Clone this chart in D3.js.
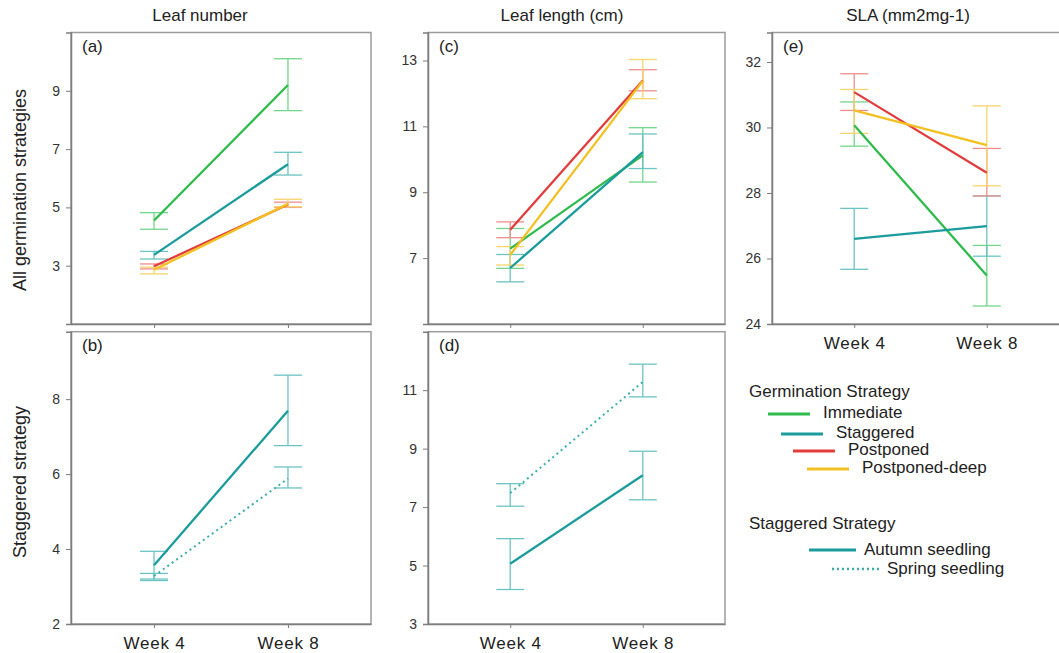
<!DOCTYPE html>
<html>
<head>
<meta charset="utf-8">
<script src="https://cdn.jsdelivr.net/npm/d3@7"></script>
<style>
  html, body { margin: 0; padding: 0; background: #fff; }
  svg { display: block; font-family: "Liberation Sans", Arial, sans-serif; }
</style>
</head>
<body>
<svg id="chart" width="1059" height="653"></svg>
<script>
// Time points and groups
const weeks = ["Week 4", "Week 8"];
const germStrategies = ["Immediate", "Staggered", "Postponed", "Postponed-deep"];
const staggeredGroups = ["Autumn seedling", "Spring seedling"];

// Leaf number, all germination strategies (rows follow germStrategies, columns follow weeks)
const leafNumMean = [[4.55, 9.20], [3.37, 6.48], [2.98, 5.10], [2.86, 5.12]];
const leafNumLow  = [[4.25, 8.32], [3.23, 6.11], [2.89, 5.00], [2.72, 5.02]];
const leafNumHigh = [[4.82, 10.10], [3.49, 6.89], [3.06, 5.18], [2.95, 5.28]];

// Leaf number, staggered strategy (rows follow staggeredGroups)
const leafNumStagMean = [[3.57, 7.69], [3.28, 5.88]];
const leafNumStagLow  = [[3.16, 6.76], [3.20, 5.63]];
const leafNumStagHigh = [[3.94, 8.64], [3.35, 6.19]];

// Leaf length (cm), all germination strategies
const leafLenMean = [[7.29, 10.12], [6.70, 10.22], [7.86, 12.39], [7.10, 12.38]];
const leafLenLow  = [[6.69, 9.31], [6.28, 9.72], [7.62, 12.08], [6.79, 11.84]];
const leafLenHigh = [[7.90, 10.96], [7.11, 10.77], [8.10, 12.72], [7.35, 13.03]];

// Leaf length (cm), staggered strategy
const leafLenStagMean = [[5.06, 8.09], [7.48, 11.28]];
const leafLenStagLow  = [[4.18, 7.25], [7.03, 10.77]];
const leafLenStagHigh = [[5.92, 8.91], [7.80, 11.89]];

// SLA (mm2mg-1), all germination strategies
const slaMean = [[30.07, 25.48], [26.60, 26.99], [31.08, 28.62], [30.52, 29.46]];
const slaLow  = [[29.43, 24.55], [25.67, 26.07], [30.52, 27.91], [29.82, 28.22]];
const slaHigh = [[30.78, 26.40], [27.53, 27.91], [31.64, 29.36], [31.16, 30.66]];

// Axis tick values per panel
const ticksA = [3, 5, 7, 9];
const ticksB = [2, 4, 6, 8];
const ticksC = [7, 9, 11, 13];
const ticksD = [3, 5, 7, 9, 11];
const ticksE = [24, 26, 28, 30, 32];

const colTitles = ["Leaf number", "Leaf length (cm)", "SLA (mm2mg-1)"];
const rowTitles = ["All germination strategies", "Staggered strategy"];

// Styling
const lineColor = { "Immediate": "#2fbb4c", "Staggered": "#1b9b9b", "Postponed": "#e23c3c", "Postponed-deep": "#f3c021",
                    "Autumn seedling": "#1b9b9b", "Spring seedling": "#3cadad" };
const barColor  = { "Immediate": "#72d68b", "Staggered": "#6cc3c3", "Postponed": "#ef8d8d", "Postponed-deep": "#f7d46c",
                    "Autumn seedling": "#6cc3c3", "Spring seedling": "#6cc3c3" };

const svg = d3.select("#chart");

function buildSeries(names, mean, low, high) {
  return names.map((n, i) => ({
    name: n,
    values: weeks.map((w, j) => ({ week: w, mean: mean[i][j], low: low[i][j], high: high[i][j] }))
  }));
}

function panel(opts) {
  const { x0, x1, y0, y1, domain, ticks, series, label, showX, dotted } = opts;
  const g = svg.append("g");
  const x = d3.scalePoint().domain(weeks).range([x0, x1]).padding(0.62);
  const y = d3.scaleLinear().domain(domain).range([y1, y0]);

  // frame
  g.append("rect").attr("x", x0).attr("y", y0).attr("width", x1 - x0).attr("height", y1 - y0)
    .attr("fill", "none").attr("stroke", "#9c9c9c").attr("stroke-width", 1.5);

  const yAxis = g.append("g").attr("transform", `translate(${x0},0)`)
    .call(d3.axisLeft(y).tickValues(ticks).tickSize(5).tickPadding(6).tickFormat(d3.format("d")));
  yAxis.select(".domain").attr("stroke", "#7d7d7d").attr("stroke-width", 1.5);
  yAxis.selectAll(".tick line").attr("stroke", "#7d7d7d");
  yAxis.selectAll(".tick text").attr("font-size", 14).attr("fill", "#333")
    .attr("font-family", "'Liberation Sans', Arial, sans-serif");

  const xAxis = g.append("g").attr("transform", `translate(0,${y1})`)
    .call(d3.axisBottom(x).tickSize(4).tickPadding(9).tickSizeOuter(0));
  xAxis.select(".domain").attr("stroke", "#7d7d7d").attr("stroke-width", 1.5);
  xAxis.selectAll(".tick line").attr("stroke", "#7d7d7d");
  xAxis.selectAll(".tick text").attr("font-size", 17).attr("fill", "#222")
    .attr("font-family", "'Liberation Sans', Arial, sans-serif")
    .attr("letter-spacing", 0.8)
    .style("display", showX ? null : "none");

  // error bars
  const cap = 14;
  series.forEach(s => {
    const eg = g.append("g").attr("stroke", barColor[s.name]).attr("stroke-width", 1.3).attr("fill", "none");
    s.values.forEach(v => {
      const cx = x(v.week);
      eg.append("line").attr("x1", cx).attr("x2", cx).attr("y1", y(v.low)).attr("y2", y(v.high));
      eg.append("line").attr("x1", cx - cap).attr("x2", cx + cap).attr("y1", y(v.low)).attr("y2", y(v.low));
      eg.append("line").attr("x1", cx - cap).attr("x2", cx + cap).attr("y1", y(v.high)).attr("y2", y(v.high));
    });
  });

  // mean lines
  const line = d3.line().x(d => x(d.week)).y(d => y(d.mean));
  series.forEach(s => {
    const isDotted = dotted && dotted.includes(s.name);
    g.append("path").datum(s.values).attr("d", line)
      .attr("fill", "none").attr("stroke", lineColor[s.name])
      .attr("stroke-width", isDotted ? 2 : 2.3)
      .attr("stroke-dasharray", isDotted ? "2,3.5" : null);
  });

  g.append("text").attr("x", x0 + 11).attr("y", y0 + 19).attr("font-size", 17).attr("fill", "#222").text(label);
  return { x, y };
}

const colX = [[71, 371], [428, 725], [772, 1069]];
const rowY = [[32.5, 324], [331.7, 624]];

panel({ x0: colX[0][0], x1: colX[0][1], y0: rowY[0][0], y1: rowY[0][1], domain: [1, 11], ticks: ticksA,
  series: buildSeries(germStrategies, leafNumMean, leafNumLow, leafNumHigh), label: "(a)", showX: false });
panel({ x0: colX[0][0], x1: colX[0][1], y0: rowY[1][0], y1: rowY[1][1], domain: [2, 9.8], ticks: ticksB,
  series: buildSeries(staggeredGroups, leafNumStagMean, leafNumStagLow, leafNumStagHigh), label: "(b)", showX: true,
  dotted: ["Spring seedling"] });
panel({ x0: colX[1][0], x1: colX[1][1], y0: rowY[0][0], y1: rowY[0][1], domain: [5, 13.85], ticks: ticksC,
  series: buildSeries(germStrategies, leafLenMean, leafLenLow, leafLenHigh), label: "(c)", showX: false });
panel({ x0: colX[1][0], x1: colX[1][1], y0: rowY[1][0], y1: rowY[1][1], domain: [3, 13], ticks: ticksD,
  series: buildSeries(staggeredGroups, leafLenStagMean, leafLenStagLow, leafLenStagHigh), label: "(d)", showX: true,
  dotted: ["Spring seedling"] });
panel({ x0: colX[2][0], x1: colX[2][1], y0: rowY[0][0], y1: rowY[0][1], domain: [24, 32.9], ticks: ticksE,
  series: buildSeries(germStrategies, slaMean, slaLow, slaHigh), label: "(e)", showX: true });

// Column titles
const titleX = [200, 562, 908];
colTitles.forEach((t, i) => {
  svg.append("text").attr("x", titleX[i]).attr("y", 21).attr("text-anchor", "middle")
    .attr("font-size", 17).attr("fill", "#222").text(t);
});

// Row titles
const rowCenter = [190, 482];
rowTitles.forEach((t, i) => {
  svg.append("text").attr("transform", `translate(26,${rowCenter[i]}) rotate(-90)`)
    .attr("text-anchor", "middle").attr("font-size", 18).attr("fill", "#222").text(t);
});

// Legend: germination strategies
const leg = svg.append("g");
leg.append("text").attr("x", 749).attr("y", 397).attr("font-size", 17).attr("fill", "#222").text("Germination Strategy");
const legLineX = [768, 781, 793, 807];
const legLineY = [414, 434, 451, 469];
germStrategies.forEach((n, i) => {
  leg.append("line").attr("x1", legLineX[i]).attr("x2", legLineX[i] + 42)
    .attr("y1", legLineY[i]).attr("y2", legLineY[i])
    .attr("stroke", lineColor[n]).attr("stroke-width", 3);
  leg.append("text").attr("x", legLineX[i] + 55).attr("y", legLineY[i] + 4)
    .attr("font-size", 17).attr("fill", "#222").text(n);
});

// Legend: staggered strategy
leg.append("text").attr("x", 749).attr("y", 529).attr("font-size", 17).attr("fill", "#222").text("Staggered Strategy");
const legLineX2 = [809, 832];
const legLineY2 = [550, 569];
staggeredGroups.forEach((n, i) => {
  leg.append("line").attr("x1", legLineX2[i]).attr("x2", legLineX2[i] + 47)
    .attr("y1", legLineY2[i]).attr("y2", legLineY2[i])
    .attr("stroke", lineColor[n]).attr("stroke-width", i === 1 ? 2.5 : 3)
    .attr("stroke-dasharray", i === 1 ? "2,3" : null);
  leg.append("text").attr("x", legLineX2[i] + 55).attr("y", legLineY2[i] + 5)
    .attr("font-size", 17).attr("fill", "#222").text(n);
});
</script>
</body>
</html>
